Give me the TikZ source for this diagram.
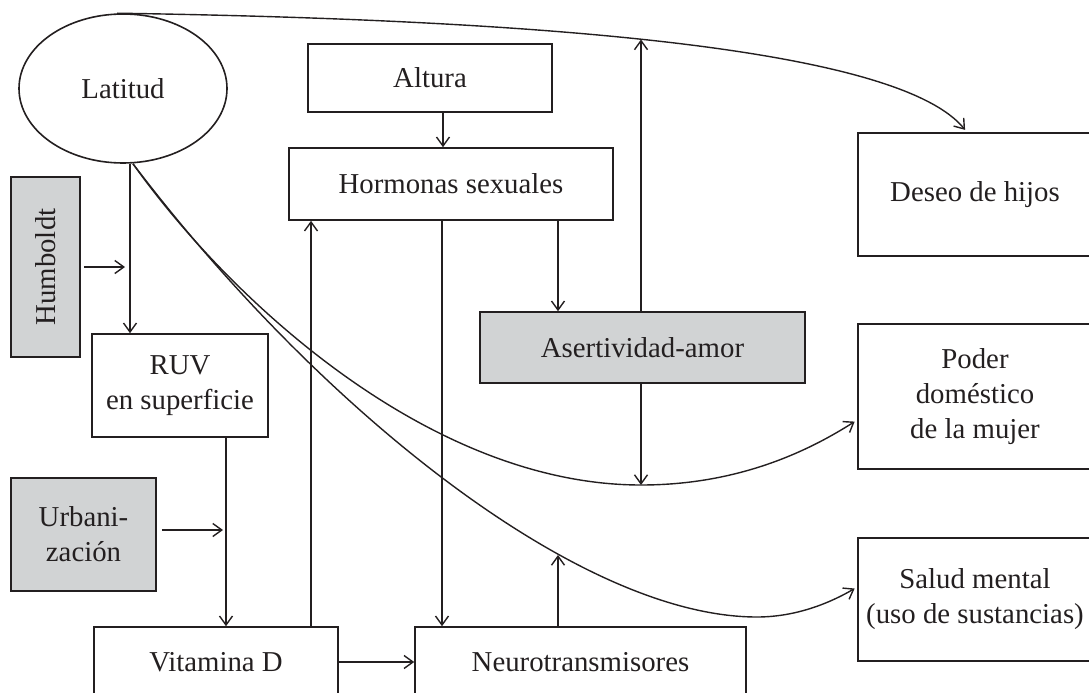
\documentclass[tikz,border=0pt]{standalone}
\usepackage{fontspec}
\setmainfont{Liberation Serif}
\usetikzlibrary{arrows.meta,shapes.geometric}
\definecolor{ln}{RGB}{35,31,32}
\definecolor{gr}{RGB}{209,211,212}
\newcommand\figfont{\fontsize{28.8pt}{35pt}\selectfont}
\begin{document}
\begin{tikzpicture}[x=1pt,y=-1pt,
  box/.style={draw=ln, line width=1.6pt, rectangle, inner sep=0pt, align=center, font=\figfont, text=ln},
  gbox/.style={box, fill=gr},
  arr/.style={draw=ln, line width=1.4pt, -{Straight Barb[length=9pt,width=13pt]}},
  curv/.style={arr, shorten >=3pt}]
\useasboundingbox (0,0) rectangle (1089,693);
% nodes
\node[box, ellipse, minimum width=208pt, minimum height=149pt] (Latitud) at (123,88.5) {Latitud};
\node[box, minimum width=244pt, minimum height=68pt] (Altura) at (430,78) {Altura};
\node[box, minimum width=324pt, minimum height=72pt] (Hormonas) at (451,184) {Hormonas sexuales};
\node[box, minimum width=234pt, minimum height=123pt] (Deseo) at (975,194.5) {Deseo de hijos};
\node[gbox, rotate=90, minimum width=180pt, minimum height=69pt] (Humboldt) at (45.5,267) {Humboldt};
\node[box, minimum width=176pt, minimum height=103pt] (RUV) at (180,385.5) {RUV\\en superficie};
\node[gbox, minimum width=325pt, minimum height=71pt] (Asert) at (642.5,347.5) {Asertividad-amor};
\node[box, minimum width=234pt, minimum height=145pt] (Poder) at (975,396.5) {Poder\\doméstico\\de la mujer};
\node[gbox, minimum width=145pt, minimum height=113pt] (Urban) at (83.5,534.5) {Urbani-\\zación};
\node[box, minimum width=234pt, minimum height=123pt] (Salud) at (975,599.5) {Salud mental\\(uso de sustancias)};
\node[box, minimum width=244pt, minimum height=70pt] (VitD) at (216,662) {Vitamina D};
\node[box, minimum width=331pt, minimum height=70pt] (Neuro) at (580.5,662) {Neurotransmisores};
% free ends
\coordinate (hum) at (125,267);
\coordinate (urb) at (223,530);
\coordinate (ctop) at (641,39.5);
\coordinate (cA) at (641,485);
\coordinate (cB) at (558,555);
% straight connectors
\draw[arr] ([xshift=7pt]Latitud.south) -- ([xshift=-50pt]RUV.north);
\draw[arr] ([xshift=3pt]Humboldt.south) -- (hum);
\draw[arr] ([xshift=13pt]Altura.south) -- ([xshift=-8pt]Hormonas.north);
\draw[arr] ([xshift=107pt]Hormonas.south) -- ([xshift=-84.5pt]Asert.north);
\draw[arr] ([xshift=-1.5pt]Asert.north) -- (ctop);
\draw[arr] ([xshift=-1.5pt]Asert.south) -- (cA);
\draw[arr] ([xshift=-9pt]Hormonas.south) -- ([xshift=-138.5pt]Neuro.north);
\draw[arr] ([xshift=46pt]RUV.south) -- ([xshift=10pt]VitD.north);
\draw[arr] ([xshift=5pt,yshift=4.5pt]Urban.east) -- (urb);
\draw[arr] ([xshift=95pt]VitD.north) -- ([xshift=-140pt]Hormonas.south);
\draw[arr] (VitD.east) -- (Neuro.west);
\draw[arr] ([xshift=-22.5pt]Neuro.north) -- (cB);
% curved connectors
\draw[curv] ([xshift=-6pt]Latitud.north) .. controls (560,20) and (900,50) .. ([xshift=-8pt]Deseo.north);
\draw[curv] ([xshift=10pt]Latitud.south) .. controls (230,300) and (430,485) .. (cA)
  .. controls (740,485) and (810,450) .. ([yshift=-23.5pt]Poder.west);
\draw[curv] ([xshift=10pt]Latitud.south) .. controls (320,410) and (580,617) .. (757,617)
  .. controls (800,617) and (835,600) .. ([yshift=12.5pt]Salud.west);
\end{tikzpicture}
\end{document}
